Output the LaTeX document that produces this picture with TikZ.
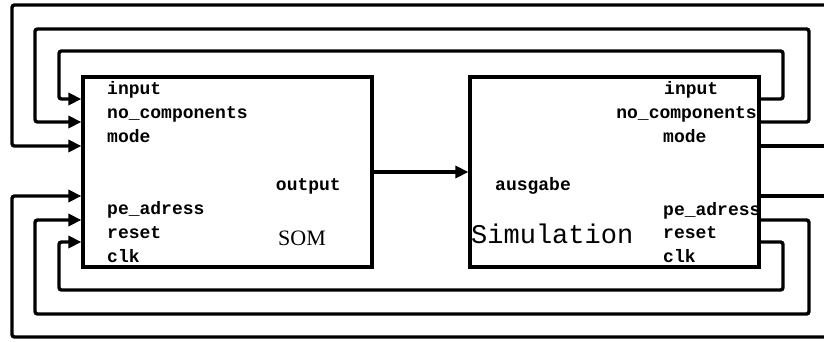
\documentclass[tikz,border=0pt]{standalone}
\usepackage{fontspec}
\setmainfont{Liberation Serif}
\setmonofont{Liberation Mono}
\usetikzlibrary{arrows.meta}
\begin{document}
\begin{tikzpicture}[x=1pt,y=-1pt,
  blk/.style={draw,line width=3.2pt,minimum width=289pt,minimum height=190pt,inner sep=0pt},
  conn/.style={line width=3.4pt,rounded corners=2.5pt},
  arr/.style={conn,-{Triangle[length=13pt,width=12pt]}},
  lbl/.style={inner sep=0pt,anchor=base west,font=\fontsize{18}{20}\selectfont\ttfamily\bfseries},
  lblr/.style={lbl,anchor=base east}]
\useasboundingbox (0,0) rectangle (824,341);
\node[blk] (som) at (227.5,172) {};
\node[blk] (sim) at (614.5,172) {};
% SOM labels
\node[lbl] (sin) at (107,94) {input};
\node[lbl] (snc) at (107,118) {no\_components};
\node[lbl] (smo) at (107,142) {mode};
\node[lblr] (sout) at (341,190) {output};
\node[lbl] (spe) at (107,214) {pe\_adress};
\node[lbl] (sre) at (107,238) {reset};
\node[lbl] (scl) at (107,262) {clk};
\node[inner sep=0pt,anchor=base west,font=\fontsize{22}{24}\selectfont] (somt) at (278,245) {SOM};
% Simulation labels
\node[lbl] (tin) at (664,94) {input};
\node[lblr] (tnc) at (757,118) {no\_components};
\node[lbl] (tmo) at (663,142) {mode};
\node[lbl] (tau) at (495,190) {ausgabe};
\node[lbl] (tpe) at (663,215) {pe\_adress};
\node[lbl] (tre) at (663,238) {reset};
\node[lbl] (tcl) at (663,262) {clk};
\node[inner sep=0pt,anchor=base west,font=\fontsize{27}{29}\selectfont\ttfamily] (simt) at (471,243) {Simulation};
% free ends at the picture border
\coordinate (r146) at (824,146);
\coordinate (r5) at (824,5);
\coordinate (r196) at (824,196);
\coordinate (r337) at (824,337);
% connectors
\draw[arr] (som.east |- 0,172) -- (sim.west |- 0,172);
\draw[arr] (sim.east |- 0,99) -- (783,99) -- (783,51) -- (59,51) -- (59,99) -- (som.west |- 0,99);
\draw[arr] (sim.east |- 0,122) -- (809,122) -- (809,29) -- (35,29) -- (35,122) -- (som.west |- 0,122);
\draw[conn] (sim.east |- 0,146) -- (r146);
\draw[arr] (r5) -- (12,5) -- (12,146) -- (som.west |- 0,146);
\draw[conn] (sim.east |- 0,196) -- (r196);
\draw[arr] (r337) -- (12,337) -- (12,196) -- (som.west |- 0,196);
\draw[arr] (sim.east |- 0,220) -- (809,220) -- (809,314) -- (35,314) -- (35,220) -- (som.west |- 0,220);
\draw[arr] (sim.east |- 0,242) -- (783,242) -- (783,290) -- (59,290) -- (59,242) -- (som.west |- 0,242);
\end{tikzpicture}
\end{document}
